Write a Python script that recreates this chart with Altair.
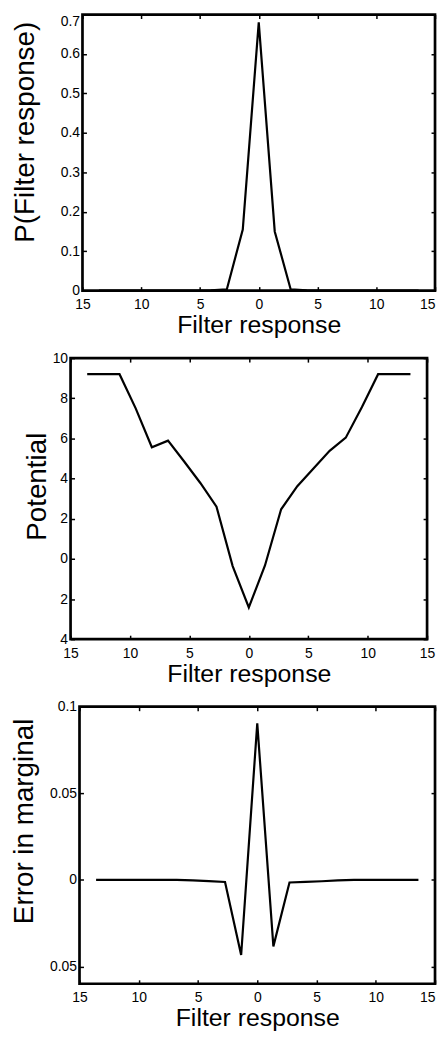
import altair as alt
import pandas as pd

# ---------------- data ----------------
x_vals = [-13.6, -12.24, -10.88, -9.52, -8.16, -6.8, -5.44, -4.08, -2.72, -1.36, 0.0,
          1.36, 2.72, 4.08, 5.44, 6.8, 8.16, 9.52, 10.88, 12.24, 13.6]
prob = [0.0, 0.0, 0.0, 0.0, 0.0, 0.0, 0.0003, 0.001, 0.003, 0.155, 0.68,
        0.15, 0.003, 0.001, 0.0003, 0.0, 0.0, 0.0, 0.0, 0.0, 0.0]
potential = [9.2, 9.2, 9.2, 7.5, 5.56, 5.89, 4.85, 3.78, 2.6, -0.36, -2.42,
             -0.33, 2.47, 3.62, 4.5, 5.38, 6.04, 7.57, 9.2, 9.2, 9.2]
err = [0.0, 0.0, 0.0, 0.0, 0.0, 0.0, -0.0003, -0.0007, -0.0012, -0.0434, 0.0904,
       -0.0384, -0.0015, -0.0012, -0.0008, -0.0003, 0.0, 0.0, 0.0, 0.0, 0.0]

x_ticks = [-15, -10, -5, 0, 5, 10, 15]
p_ticks = [0, 0.1, 0.2, 0.3, 0.4, 0.5, 0.6, 0.7]
pot_ticks = [-4, -2, 0, 2, 4, 6, 8, 10]
err_ticks = [-0.05, 0, 0.05, 0.1]

FONT = "Liberation Sans"
LABEL_EXPR = "abs(datum.value) + ''"


def panel(values, y_domain, y_ticks, y_title, width, height,
          ytitle_x, ytitle_y, xtitle_y, flush_top=None, pull_last=False):
    df = pd.DataFrame({"x": x_vals, "y": values})
    xs = alt.Scale(domain=[-15, 15], nice=False, zero=False)
    ys = alt.Scale(domain=y_domain, nice=False, zero=False)
    common = dict(domain=False, tickSize=4, offset=-4, tickColor="black",
                  tickWidth=1.5, grid=False, minExtent=0)
    bottom_extra = {}
    if pull_last:
        bottom_extra["labelAlign"] = {
            "condition": {"test": "datum.value == 15", "value": "right"},
            "value": "center"}
    ax_bottom = alt.Axis(orient="bottom", values=x_ticks, labelExpr=LABEL_EXPR,
                         labelPadding=7, labelFlush=False, labelOverlap=False,
                         title="Filter response", titleY=xtitle_y,
                         titleBaseline="alphabetic", titleFontSize=25,
                         **bottom_extra, **common)
    left_extra = {}
    if flush_top is not None:
        left_extra["labelBaseline"] = {
            "condition": {"test": f"datum.value == {flush_top}", "value": "top"},
            "value": "middle"}
    ax_left = alt.Axis(orient="left", values=y_ticks, labelExpr=LABEL_EXPR,
                       labelPadding=3, labelFlush=False, labelOverlap=False,
                       title=y_title, titleX=ytitle_x, titleY=ytitle_y,
                       titleAngle=270, titleAlign="center",
                       titleBaseline="alphabetic", titleFontSize=28,
                       **left_extra, **common)
    ax_top = alt.Axis(orient="top", values=x_ticks, labels=False, title=None, **common)
    ax_right = alt.Axis(orient="right", values=y_ticks, labels=False, title=None, **common)

    line = alt.Chart(df).mark_line(color="black", strokeWidth=2.2).encode(
        x=alt.X("x:Q", scale=xs, axis=ax_bottom),
        y=alt.Y("y:Q", scale=ys, axis=ax_left),
    )
    ghost = alt.Chart(df).mark_line(opacity=0).encode(
        x=alt.X("x:Q", scale=xs, axis=ax_top),
        y=alt.Y("y:Q", scale=ys, axis=ax_right),
    )
    return alt.layer(line, ghost).resolve_axis(x="independent", y="independent").properties(
        width=width, height=height)


def spacer(w):
    return alt.Chart(pd.DataFrame({"s": [0]})).mark_point(opacity=0, size=0).encode(
        x=alt.X("s:Q", axis=None), y=alt.Y("s:Q", axis=None)
    ).properties(width=w, height=1, view=alt.ViewBackground(stroke="transparent", strokeWidth=0))


p1 = panel(prob, [0, 0.7], p_ticks, "P(Filter response)", 355, 278,
           ytitle_x=-53, ytitle_y=118, xtitle_y=46.15, flush_top=0.7, pull_last=True)
p2 = panel(potential, [-4, 10], pot_ticks, "Potential", 359, 283,
           ytitle_x=-29.7, ytitle_y=129, xtitle_y=46.65)
p3 = panel(err, [-0.06, 0.1], err_ticks, "Error in marginal", 358, 279,
           ytitle_x=-51, ytitle_y=115, xtitle_y=46.4, pull_last=True)

row1 = alt.hconcat(spacer(2), p1, spacing=0)
row2 = alt.hconcat(spacer(13), p2, spacing=0)
row3 = alt.hconcat(spacer(1), p3, spacing=0)

chart = alt.vconcat(row1, row2, row3, spacing=10).properties(padding=0).configure_view(
    stroke="black", strokeWidth=2.7
).configure_axis(
    labelFont=FONT, titleFont=FONT, labelFontSize=14, labelColor="black",
    titleColor="black", titleFontWeight="normal"
)

chart.save("out.html", embed_options={"renderer": "svg", "actions": False})
